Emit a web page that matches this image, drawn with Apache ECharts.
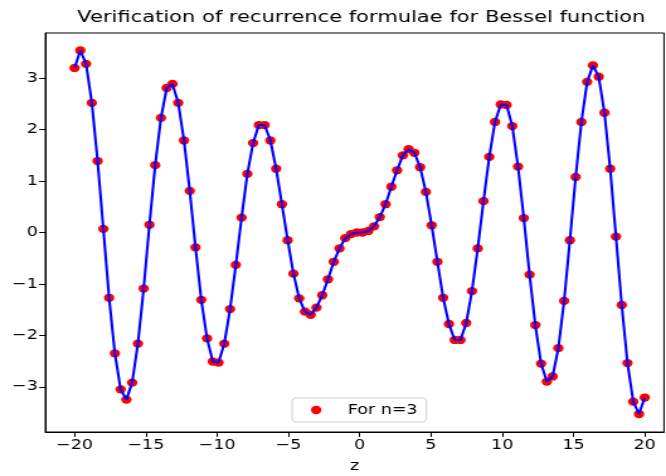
<!DOCTYPE html>
<html>
<head>
<meta charset="utf-8">
<script src="https://cdn.jsdelivr.net/npm/echarts@6/dist/echarts.min.js"></script>
<style>
html,body{margin:0;padding:0;background:#fff;overflow:hidden;}
#wrap{width:666px;height:476px;overflow:hidden;position:relative;}
#chart{width:529px;height:476px;transform:scaleX(1.259);transform-origin:0 0;}
</style>
</head>
<body>
<div id="wrap"><div id="chart"></div></div>
<script>
// z sample points (100 evenly spaced points from -20 to 20)
var zValues = [
-20.000,-19.596,-19.192,-18.788,-18.384,-17.980,-17.576,-17.172,-16.768,-16.364,
-15.960,-15.556,-15.152,-14.747,-14.343,-13.939,-13.535,-13.131,-12.727,-12.323,
-11.919,-11.515,-11.111,-10.707,-10.303,-9.899,-9.495,-9.091,-8.687,-8.283,
-7.879,-7.475,-7.071,-6.667,-6.263,-5.859,-5.455,-5.051,-4.646,-4.242,
-3.838,-3.434,-3.030,-2.626,-2.222,-1.818,-1.414,-1.010,-0.606,-0.202,
0.202,0.606,1.010,1.414,1.818,2.222,2.626,3.030,3.434,3.838,
4.242,4.646,5.051,5.455,5.859,6.263,6.667,7.071,7.475,7.879,
8.283,8.687,9.091,9.495,9.899,10.303,10.707,11.111,11.515,11.919,
12.323,12.727,13.131,13.535,13.939,14.343,14.747,15.152,15.556,15.960,
16.364,16.768,17.172,17.576,17.980,18.384,18.788,19.192,19.596,20.000
];
// values (red points "For n=3")
var pointValues = [
3.20,3.54,3.28,2.52,1.39,0.07,-1.27,-2.35,-3.05,-3.25,
-2.92,-2.16,-1.09,0.15,1.31,2.23,2.81,2.89,2.52,1.79,
0.81,-0.29,-1.31,-2.06,-2.51,-2.53,-2.16,-1.49,-0.63,0.29,
1.14,1.74,2.09,2.09,1.79,1.24,0.55,-0.15,-0.80,-1.28,
-1.54,-1.60,-1.46,-1.22,-0.91,-0.57,-0.31,-0.11,-0.03,0.00,
0.00,0.03,0.12,0.30,0.55,0.89,1.21,1.50,1.62,1.55,
1.27,0.79,0.14,-0.57,-1.27,-1.78,-2.09,-2.09,-1.76,-1.14,
-0.31,0.61,1.47,2.15,2.49,2.48,2.07,1.28,0.28,-0.82,
-1.80,-2.55,-2.90,-2.80,-2.25,-1.33,-0.15,1.08,2.15,2.93,
3.25,3.03,2.33,1.24,-0.08,-1.41,-2.54,-3.29,-3.53,-3.21
];
// blue curve values (same samples)
var lineValues = pointValues.slice();

var xTicks = [-20,-15,-10,-5,0,5,10,15,20];
var yTicks = [-3,-2,-1,0,1,2,3];

var titleText = 'Verification of recurrence formulae for Bessel function';
var legendLabel = 'For n=3';
var xName = 'z';

var scatterData = zValues.map(function(z,i){return [z, pointValues[i]];});
var lineData = zValues.map(function(z,i){return [z, lineValues[i]];});

function fmt(v){ return String(v).replace('-', '\u2212'); }

var font = 'DejaVu Sans';
var chart = echarts.init(document.getElementById('chart'), null, {renderer:'canvas'});
chart.setOption({
  animation: false,
  backgroundColor: '#fff',
  title: {
    text: titleText,
    left: 282, top: 4,
    textAlign: 'center',
    textStyle: {fontFamily: font, fontSize: 16.7, fontWeight: 'normal', color: '#000'}
  },
  legend: {
    data: [{name: legendLabel, icon: 'circle'}],
    left: 232, top: 398,
    itemWidth: 8.3, itemHeight: 8.3,
    padding: [5, 7, 5, 15],
    borderColor: '#d0d0d0', borderWidth: 1, borderRadius: 3,
    backgroundColor: 'rgba(255,255,255,0.8)',
    textStyle: {fontFamily: font, fontSize: 13.9, color: '#000', padding: [0,0,0,16]}
  },
  grid: {
    left: 36, right: 1.6, top: 33, bottom: 44,
    containLabel: false,
    outerBoundsMode: 'none',
    show: true, borderColor: '#000', borderWidth: 1, backgroundColor: '#fff'
  },
  xAxis: {
    type: 'value', min: -22.05, max: 21.35,
    name: xName, nameLocation: 'middle', nameGap: 27,
    nameTextStyle: {fontFamily: font, fontSize: 13.9, color: '#000'},
    splitLine: {show: false},
    axisLine: {show: true, onZero: false, lineStyle: {color: '#000', width: 1}},
    axisTick: {show: true, length: 4.9, lineStyle: {color: '#000'}, customValues: xTicks},
    axisLabel: {fontFamily: font, fontSize: 13.9, color: '#000', margin: 6, customValues: xTicks, formatter: fmt}
  },
  yAxis: {
    type: 'value', min: -3.88, max: 3.88,
    splitLine: {show: false},
    axisLine: {show: true, onZero: false, lineStyle: {color: '#000', width: 1}},
    axisTick: {show: true, length: 4.9, lineStyle: {color: '#000'}, customValues: yTicks},
    axisLabel: {fontFamily: font, fontSize: 13.9, color: '#000', margin: 6, customValues: yTicks, formatter: fmt}
  },
  series: [
    {
      name: legendLabel, type: 'scatter', data: scatterData,
      symbol: 'circle', symbolSize: 8.3,
      itemStyle: {color: '#ff0000', opacity: 1},
      z: 2
    },
    {
      name: 'curve', type: 'line', data: lineData,
      showSymbol: false, symbol: 'none',
      lineStyle: {color: '#0000ff', width: 2.1},
      z: 3
    }
  ]
});
</script>
</body>
</html>
